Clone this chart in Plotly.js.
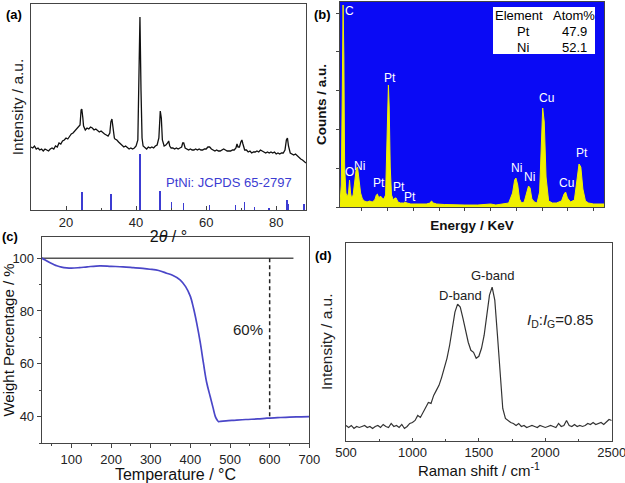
<!DOCTYPE html>
<html>
<head>
<meta charset="utf-8">
<script src="https://cdn.plot.ly/plotly-3.0.1.min.js"></script>
<style>html,body{margin:0;padding:0;background:#fff}#chart{width:625px;height:483px}</style>
</head>
<body>
<div id="chart"></div>
<script>
// ---------- (a) XRD ----------
const xrdTheta = [10,10.5,11,11.5,12,12.5,13,13.5,14,14.5,15,15.5,16,16.5,17,17.5,18,18.5,19,19.5,20,20.5,21,21.5,22,22.5,23,23.5,24,24.3,24.5,24.8,25,25.5,26,26.5,27,27.5,28,28.5,29,29.5,30,30.5,31,31.5,32,32.5,32.8,33.1,33.4,33.8,34,34.5,35,35.5,36,36.5,37,37.5,38,38.5,39,39.5,40,40.5,40.8,41.1,41.4,41.7,42,42.5,43,43.5,44,44.5,45,45.5,46,46.5,46.9,47.2,47.5,48,48.5,49,49.3,49.6,50,50.5,51,51.5,52,52.5,53,53.3,53.6,54,54.5,55,55.5,56,56.5,57,57.5,58,58.5,59,59.5,60,60.5,61,61.5,62,62.5,63,63.5,64,64.5,65,65.5,66,66.5,67,67.5,68,68.5,68.8,69.1,69.5,69.9,70.2,70.5,71,71.5,72,72.5,73,73.5,74,74.5,75,75.5,76,76.5,77,77.5,78,78.5,79,79.5,80,80.5,81,81.5,82,82.5,82.9,83.2,83.5,84,84.5,85,85.5,86,86.5,87,87.5,88,88.5];
const xrdInt = [63,62,64,61,62,60,61,59,61,60,59,61,62,61,64,63,67,66,69,70,72,71,74,76,77,79,80,83,85,100,101,92,84,80,82,81,83,82,80,81,79,78,79,77,76,75,74,77,88,91,82,72,71,70,68,66,65,63,64,62,61,62,61,62,64,70,120,193,120,72,64,62,61,63,62,63,62,64,65,72,99,92,70,64,65,67,69,64,62,62,61,62,61,62,63,67,67,62,61,60,61,60,60,61,60,61,60,60,61,61,63,63,61,60,59,60,59,59,60,61,60,59,59,59,60,60,62,66,63,63,68,70,66,60,60,58,59,57,58,58,59,58,60,59,58,57,58,57,58,57,58,56,57,56,57,57,60,70,72,64,57,56,55,56,54,53,51,50,48,47];
const refTheta = [24.5,32.8,41.1,46.8,50.1,53.5,61.0,68.4,70.9,73.8,78.0,83.0,83.4,87.9];
const refInt = [18,16,56,19,8,7.5,5,5,8.5,3,2,10,6,6];
const xrdTicks = [20,40,60,80];

// ---------- (b) EDS ----------
const edsEnergy = [0.15,0.2,0.24,0.27,0.3,0.33,0.38,0.43,0.48,0.52,0.56,0.6,0.66,0.72,0.78,0.83,0.88,0.95,1.02,1.1,1.2,1.3,1.4,1.5,1.56,1.6,1.66,1.72,1.78,1.85,1.92,1.97,2.0,2.03,2.06,2.1,2.15,2.22,2.28,2.33,2.4,2.5,2.62,2.67,2.75,2.9,3.1,3.3,3.5,3.65,3.7,3.78,3.9,4.2,4.6,5.0,5.5,6.0,6.2,6.5,6.7,6.85,6.93,6.98,7.05,7.12,7.2,7.3,7.4,7.47,7.53,7.6,7.7,7.8,7.9,7.96,8.02,8.08,8.15,8.25,8.4,8.55,8.75,8.85,8.91,8.98,9.1,9.25,9.35,9.43,9.5,9.58,9.68,9.8,10.0,10.2,10.4];
const edsCounts = [4,22,120,202,150,40,14,10,14,27,14,9,12,25,38,40,30,14,8,6,5,6,5,7,12,13,9,11,9,8,12,60,110,122,100,40,12,7,9,9,5,4,4,5,4,3,3,3,3,4,6,4,3,2.5,2,2,2,3,2,3,4,14,27,29,22,8,4,5,16,21,19,8,5,4,15,70,99,85,30,6,4,4,6,13,15,9,5,7,25,43,40,18,6,4,3,3,3];
const edsLabels = ["C","O","Ni","Pt","Pt","Pt","Pt","Ni","Ni","Cu","Cu","Pt"];
const edsLabelE = [0.52,0.5,0.92,1.68,2.09,2.45,2.87,7.0,7.52,8.17,8.94,9.56];
const edsLabelY = [196,35,41,24,129,20,10,39,30,109,24,54];
const tableElements = ["Pt","Ni"];
const tableAtom = ["47.9","52.1"];

// ---------- (c) TGA ----------
const tgaTemp = [25,35,45,55,63,75,88,100,120,140,172,200,230,256,280,298,320,340,355,374,388,400,408,416,425,433,441,450,457,463,468,471,476,490,509,540,570,593,620,650,680,700];
const tgaWeight = [100,99.2,98.3,97.6,97.1,96.6,96.3,96.2,96.4,96.7,97.1,96.9,96.7,96.4,96.1,95.8,95.3,94.3,93.5,91.8,89.2,85.5,81,75.4,68,60.2,53,47.6,43.5,40,38.6,38.1,38.2,38.4,38.6,38.9,39.1,39.4,39.6,39.8,39.9,40];
const tgaTicks = [100,200,300,400,500,600,700];

// ---------- (d) Raman ----------
const ramanShift = [500,520,540,560,580,600,620,640,660,680,700,720,740,760,780,800,820,840,860,880,900,920,940,960,980,1000,1020,1040,1060,1080,1100,1120,1140,1160,1180,1200,1220,1240,1260,1280,1300,1320,1340,1360,1380,1400,1420,1440,1460,1480,1500,1520,1540,1560,1580,1600,1620,1640,1660,1680,1700,1720,1740,1760,1780,1800,1820,1840,1860,1880,1900,1920,1940,1960,1980,2000,2020,2040,2060,2080,2100,2120,2140,2160,2180,2200,2220,2240,2260,2280,2300,2320,2340,2360,2380,2400,2420,2440,2460,2480,2500];
const ramanInt = [15,13,15,12,14,13,14,15,13,14,12,14,15,13,16,14,13,17,14,15,13,16,12,14,17,18,20,25,23,28,33,38,37,45,50,55,63,72,82,95,110,128,136,133,122,110,98,90,88,82,84,92,105,125,145,153,140,105,65,32,22,20,18,17,15,17,14,15,13,14,15,14,13,15,14,13,14,15,14,13,17,14,15,20,15,14,16,14,15,14,15,17,16,18,16,17,18,16,19,21,20];
const ramanTicks = [500,1000,1500,2000,2500];

const FONT = "Arial, 'Liberation Sans', sans-serif";
const W = 625, H = 483;
const dx = (a,b) => [a/W, b/W];
const dy = (top,bot) => [1-bot/H, 1-top/H];

const traces = [
  {type:'bar', x:refTheta, y:refInt, width:0.45, marker:{color:'#3c3cd2', line:{width:0}}, xaxis:'x', yaxis:'y', hoverinfo:'skip'},
  {type:'scatter', mode:'lines', x:xrdTheta, y:xrdInt, line:{color:'#111', width:1.3}, xaxis:'x', yaxis:'y'},
  {type:'scatter', mode:'lines', x:edsEnergy, y:edsCounts, fill:'tozeroy', fillcolor:'#f0f000', line:{color:'#f0f000', width:1}, xaxis:'x2', yaxis:'y2'},
  {type:'scatter', mode:'lines', x:[25,660], y:[100,100], line:{color:'#555', width:1.5}, xaxis:'x3', yaxis:'y3'},
  {type:'scatter', mode:'lines', x:[600,600], y:[100,39.5], line:{color:'#222', width:1.5, dash:'4px,3px'}, xaxis:'x3', yaxis:'y3'},
  {type:'scatter', mode:'lines', x:tgaTemp, y:tgaWeight, line:{color:'#4a46c8', width:1.7, shape:'spline'}, xaxis:'x3', yaxis:'y3'},
  {type:'scatter', mode:'lines', x:ramanShift, y:ramanInt, line:{color:'#333', width:1.2}, xaxis:'x4', yaxis:'y4'}
];

const frame = {showline:true, linecolor:'#444', linewidth:1, mirror:true, showgrid:false, zeroline:false, ticklabeloverflow:'allow'};
const tf = {family:FONT, size:13, color:'#222'};

function note(text, px, py, size, color, extra) {
  return Object.assign({text:text, x:px/W, y:1-py/H, xref:'paper', yref:'paper', xanchor:'center', yanchor:'middle',
    showarrow:false, font:{family:FONT, size:size, color:color}}, extra || {});
}

const annotations = [
  note('<b>(a)</b>', 14, 15, 13, '#000'),
  note('<b>(b)</b>', 322, 15, 13, '#000'),
  note('<b>(c)</b>', 10, 236, 13, '#000'),
  note('<b>(d)</b>', 323, 255, 13, '#000'),
  note('PtNi: JCPDS 65-2797', 229, 183, 13, '#3c3cd2'),
  note('60%', 248, 329, 15, '#222'),
  note('D-band', 460, 295, 13, '#222'),
  note('G-band', 492, 275, 13, '#222'),
  note('<i>I</i><sub>D</sub>:<i>I</i><sub>G</sub>=0.85', 560, 320, 15, '#222'),
  note('Element', 519, 16, 13, '#000'),
  note('Atom%', 573.5, 16, 13, '#000')
];
tableElements.forEach((el,i)=>{
  annotations.push(note(el, 523, 32+15.5*i, 13, '#000'));
  annotations.push(note(tableAtom[i], 574, 32+15.5*i, 13, '#000'));
});
edsLabels.forEach((t,i)=>{
  annotations.push({text:t, x:edsLabelE[i], y:edsLabelY[i], xref:'x2', yref:'y2', xanchor:'center', yanchor:'middle',
    showarrow:false, font:{family:FONT,size:12,color:'#fff'}});
});

const layout = {
  width:W, height:H, margin:{l:0,r:0,t:0,b:0}, showlegend:false,
  paper_bgcolor:'#fff', plot_bgcolor:'rgba(0,0,0,0)', bargap:0,
  font:{family:FONT, color:'#222'},
  xaxis:Object.assign({}, frame, {domain:dx(31,306), range:[10,88.5], tickvals:xrdTicks, ticks:'inside', ticklen:4, tickcolor:'#444',
    minor:{dtick:10, tick0:10, ticks:'inside', ticklen:2, tickcolor:'#444'}, tickfont:tf,
    title:{text:'2<i>θ</i> / °', font:{family:FONT,size:16,color:'#111'}, standoff:2}, anchor:'y'}),
  yaxis:Object.assign({}, frame, {domain:dy(4,210), range:[0,206], showticklabels:false, ticks:'',
    title:{text:'Intensity / a.u.', font:{family:FONT,size:15.5,color:'#222'}, standoff:2}, anchor:'x'}),
  xaxis2:Object.assign({}, frame, {domain:dx(340,604), range:[0.15,10.4], dtick:1, tick0:0, ticks:'outside', ticklen:3, tickcolor:'#444', showticklabels:false,
    title:{text:'<b>Energy / KeV</b>', font:{family:FONT,size:13.5,color:'#111'}, standoff:10}, anchor:'y2'}),
  yaxis2:Object.assign({}, frame, {domain:dy(2,207), range:[0,205], dtick:38.8, tick0:0, ticks:'outside', ticklen:3, tickcolor:'#444', showticklabels:false,
    title:{text:'<b>Counts / a.u.</b>', font:{family:FONT,size:13.5,color:'#111'}, standoff:6}, anchor:'x2'}),
  xaxis3:Object.assign({}, frame, {domain:dx(41.7,309.3), range:[25,700], tickvals:tgaTicks, ticks:'outside', ticklen:4, tickcolor:'#444',
    minor:{dtick:50, tick0:0, ticks:'outside', ticklen:2, tickcolor:'#444'}, tickfont:tf,
    title:{text:'Temperature / °C', font:{family:FONT,size:16,color:'#111'}, standoff:4}, anchor:'y3'}),
  yaxis3:Object.assign({}, frame, {domain:dy(237,443), range:[30,108], dtick:20, tick0:0, ticks:'outside', ticklen:4, tickcolor:'#444',
    minor:{dtick:10, tick0:0, ticks:'outside', ticklen:2, tickcolor:'#444'}, tickfont:tf,
    title:{text:'Weight Percentage / %', font:{family:FONT,size:15,color:'#111'}, standoff:4}, anchor:'x3'}),
  xaxis4:Object.assign({}, frame, {domain:dx(346,611.7), range:[500,2500], tickvals:ramanTicks, ticks:'inside', ticklen:3, tickcolor:'#444',
    minor:{dtick:250, tick0:0, ticks:'inside', ticklen:2, tickcolor:'#444'}, tickfont:tf,
    title:{text:'Raman shift / cm<sup>-1</sup>', font:{family:FONT,size:15,color:'#111'}, standoff:4}, anchor:'y4'}),
  yaxis4:Object.assign({}, frame, {domain:dy(243,440.5), range:[0,197], showticklabels:false, ticks:'',
    title:{text:'Intensity / a.u.', font:{family:FONT,size:15.5,color:'#222'}, standoff:8}, anchor:'x4'}),
  shapes:[
    {type:'rect', xref:'x2 domain', yref:'y2 domain', x0:0, x1:1, y0:0, y1:1, fillcolor:'#0a0af5', line:{width:0}, layer:'below'},
    {type:'rect', xref:'paper', yref:'paper', x0:493/W, x1:595/W, y0:1-54/H, y1:1-7/H, fillcolor:'#fff', line:{width:0}, layer:'above'}
  ],
  annotations: annotations
};

Plotly.newPlot('chart', traces, layout, {staticPlot:true, displayModeBar:false});
</script>
</body>
</html>
